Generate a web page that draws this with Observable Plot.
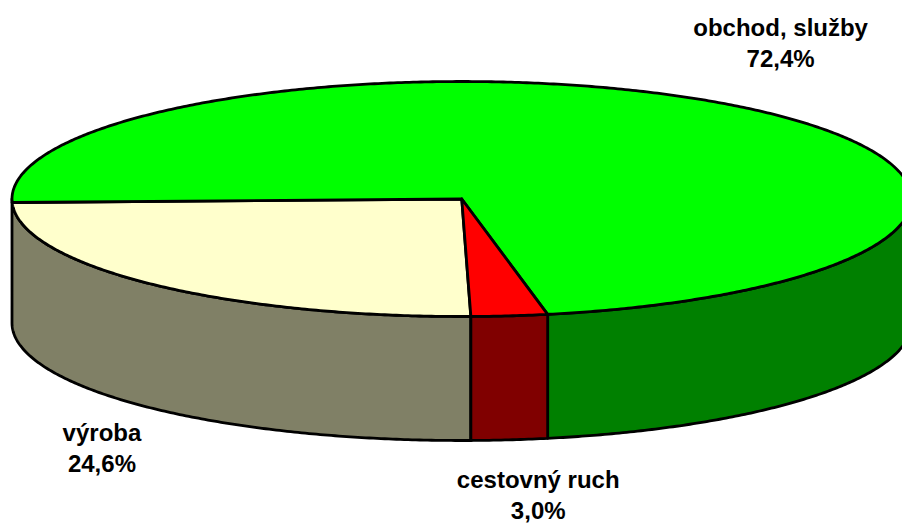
<!DOCTYPE html>
<html><head><meta charset="utf-8">
<style>html,body{margin:0;padding:0;background:#fff}svg{display:block}</style>
<script src="https://cdn.jsdelivr.net/npm/d3@7"></script>
<script src="https://cdn.jsdelivr.net/npm/@observablehq/plot@0.6"></script>
</head><body><script>
const names = ["výroba", "obchod, služby", "cestovný ruch"];
const shares = [24.6, 72.4, 3.0];
const shareLabels = ["24,6%", "72,4%", "3,0%"];
const topColors = ["#ffffcc", "#00ff00", "#ff0000"];
const wallColors = ["#808066", "#008000", "#800000"];

// pie geometry in unit-pie coordinates
const startAngle = -1.15, wallDepth = 124 / 117.5, step = 0.5;
const perspective = [1.01, 1.0002, 0.912]; // apparent sweep of each slice under the 3D view
const labelAnchors = [[-0.8, 1.99], [0.709, -1.45], [0.17, 2.39]];

const rad = d => d * Math.PI / 180;
const pt = (t, dy = 0) => [-Math.sin(rad(t)), Math.cos(rad(t)) + dy];
const arc = (a, b, dy = 0) => {
  const out = [];
  for (let t = a; t < b; t += step) out.push(pt(t, dy));
  out.push(pt(b, dy));
  return out;
};
let cum = startAngle;
const slices = names.map((n, i) => {
  const a = cum; cum += shares[i] * 3.6 * perspective[i];
  return {i, name: n, a, b: cum};
});
const top3d = [], wall = [];
const push = (arr, i, pts) => {
  pts.forEach(p => arr.push({x: p[0], y: p[1], slice: i}));
};
slices.forEach(s => {
  push(top3d, s.i, [[0, 0], ...arc(s.a, s.b), [0, 0]]);
  // visible wall = portion of the slice on the near half of the rim
  [[s.a, s.b], [s.a - 360, s.b - 360]].forEach(([a, b]) => {
    const lo = Math.max(a, -90), hi = Math.min(b, 90);
    if (hi - lo > 3) {
      const end = s.i === 0 ? 90 : hi;
      push(wall, s.i, [...arc(lo, end), ...arc(lo, end, wallDepth).reverse(), pt(lo)]);
    }
  });
});
wall.forEach(d => d.fill = wallColors[d.slice]);
top3d.forEach(d => d.fill = topColors[d.slice]);
const labelRows = names.flatMap((n, i) => [
  {x: labelAnchors[i][0], y: labelAnchors[i][1], t: n},
  {x: labelAnchors[i][0], y: labelAnchors[i][1] + 31 / 117.5, t: shareLabels[i]}
]);

const line = data => Plot.line(data, {x: "x", y: "y", z: "slice", fill: "fill", stroke: "#000", strokeWidth: 2.8, curve: "linear", strokeLinejoin: "round"});
const chart = Plot.plot({
  width: 902, height: 523,
  margin: 0,
  style: {background: "#fff", overflow: "hidden"},
  x: {domain: [-1, 1], range: [11.5, 911], axis: null},
  y: {domain: [-1, 1], range: [81, 316], axis: null},
  color: {type: "identity"},
  marks: [
    line(wall),
    line(top3d),
    Plot.text(labelRows, {x: "x", y: "y", text: "t", fontFamily: "Liberation Sans, Arial, sans-serif", fontWeight: "bold", fontSize: 24, fill: "#000"})
  ]
});
document.body.appendChild(chart);
</script></body></html>
